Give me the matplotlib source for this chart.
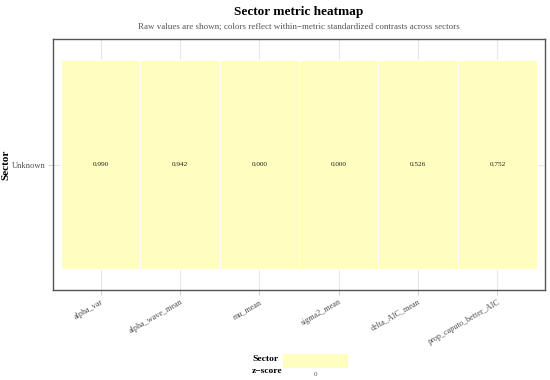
import numpy as np
import matplotlib
matplotlib.use('Agg')
import matplotlib.pyplot as plt
from matplotlib.colors import TwoSlopeNorm

metrics = ['alpha_var', 'alpha_wave_mean', 'mu_mean', 'sigma2_mean',
           'delta_AIC_mean', 'prop_caputo_better_AIC']
sectors = ['Unknown']
raw_values = [[0.990, 0.942, 0.000, 0.000, 0.526, 0.752]]
z_scores = [[0, 0, 0, 0, 0, 0]]

plt.rcParams['font.family'] = ['Liberation Serif', 'DejaVu Serif']

fig = plt.figure(figsize=(5.5, 3.8), dpi=100)
ax = fig.add_axes([53 / 550, 1 - 290 / 380, 492 / 550, 251 / 380])

z = np.array(z_scores, dtype=float)
cmap = plt.get_cmap('RdYlBu_r')
norm = TwoSlopeNorm(vcenter=0, vmin=-1, vmax=1)

nx, ny = len(metrics), len(sectors)
xe = np.arange(nx + 1) - 0.5
ye = np.arange(ny + 1) - 0.5
ax.pcolormesh(xe, ye, z, cmap=cmap, norm=norm, edgecolor='white', linewidth=0.4, zorder=2)

for j, row in enumerate(raw_values):
    for i, v in enumerate(row):
        ax.text(i, j, f'{v:.3f}', ha='center', va='center', fontsize=5.2,
                color='#222222', zorder=3)

ax.set_xlim(-0.6, nx - 1 + 0.6)
ax.set_ylim(-0.6, ny - 1 + 0.6)
ax.set_xticks(range(nx))
ax.set_xticklabels(metrics, rotation=30, ha='right', rotation_mode='anchor',
                   fontsize=5.9, color='#4d4d4d')
ax.set_yticks(range(ny))
ax.set_yticklabels(sectors, fontsize=6.1, color='#4d4d4d')
ax.tick_params(length=3.5, color='#c8c8c8', width=0.6, pad=2)
ax.grid(True, color='#e8e8e8', linewidth=0.8, zorder=0)
ax.set_axisbelow(True)
for s in ax.spines.values():
    s.set_color('#555555')
    s.set_linewidth(1.0)
ax.set_ylabel('Sector', fontsize=8, fontweight='bold')
ax.yaxis.set_label_coords((10 - 53) / 492, 0.5)

# titles centred over the panel
cx = (53 + 545) / 2 / 550
fig.text(cx, 1 - 12 / 380, 'Sector metric heatmap', ha='center', va='center',
         fontsize=9.5, fontweight='bold')
fig.text(cx, 1 - 27 / 380,
         'Raw values are shown; colors reflect within\u2212metric standardized contrasts across sectors',
         ha='center', va='center', fontsize=6.5, color='#555555')

# legend colourbar
cax = fig.add_axes([283 / 550, 1 - 368 / 380, 65 / 550, 14 / 380])
cax.imshow([[0, 0]], cmap=cmap, norm=norm, aspect='auto', extent=[0, 1, 0, 1])
cax.set_xticks([0.5])
cax.set_xticklabels(['0'], fontsize=5, color='#4d4d4d')
cax.tick_params(length=0, pad=3)
cax.set_yticks([])
for s in cax.spines.values():
    s.set_visible(False)
fig.text(252 / 550, 1 - 365 / 380, 'Sector\nz\u2212score', ha='left', va='center',
         fontsize=6.8, fontweight='bold', linespacing=1.6)

fig.savefig('out.png', dpi=100)
